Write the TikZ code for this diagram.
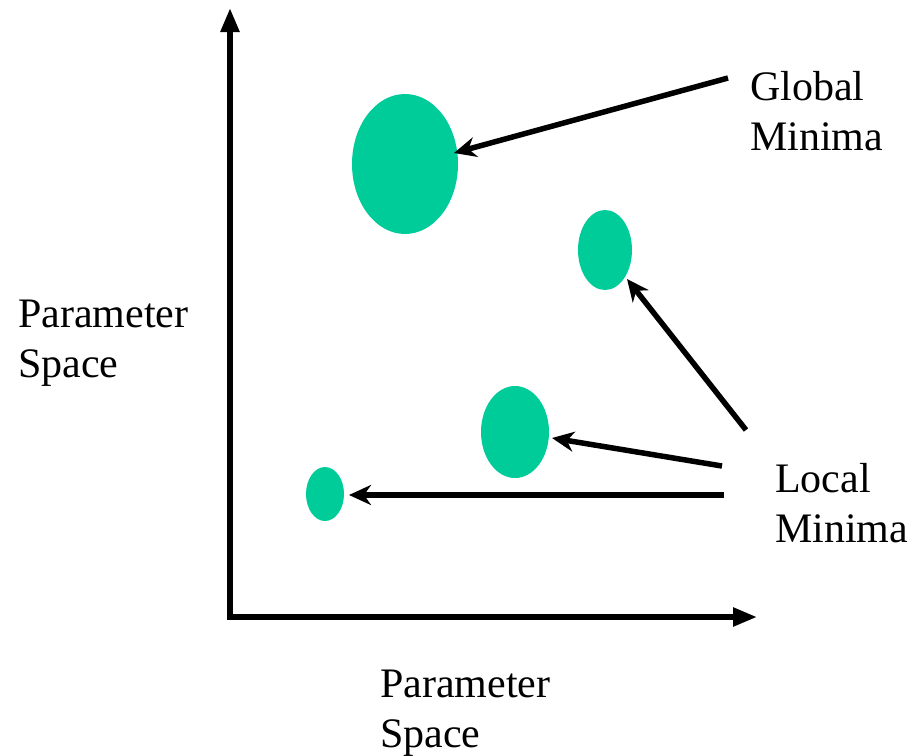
\documentclass[tikz,border=0pt]{standalone}
\usepackage{fontspec}
\setmainfont{Liberation Serif}
\usetikzlibrary{arrows.meta,shapes.geometric}
\definecolor{minfill}{RGB}{0,204,153}
\begin{document}
\begin{tikzpicture}[x=1pt,y=-1pt,
  axis/.style={line width=5.5pt,-{Triangle[length=24pt,width=18pt]}},
  pointer/.style={line width=5.5pt,-{Stealth[length=22pt,width=20pt,inset=7pt]}},
  basin/.style={fill=minfill,draw=none,ellipse,inner sep=0pt},
  lbl/.style={font=\fontsize{42}{50}\selectfont,align=left,inner sep=0pt}]
\useasboundingbox (0,0) rectangle (918,755);
% axes
\coordinate (origin) at (230,617);
\coordinate (ytop) at (230,8);
\coordinate (xend) at (757,617);
\draw[axis] ([yshift=2.75pt]origin) -- (ytop);
\draw[axis] ([xshift=-2.75pt]origin) -- (xend);
% minima
\node[basin,minimum width=106pt,minimum height=140pt] (g) at (405,164) {};
\node[basin,minimum width=54pt,minimum height=80pt] (l1) at (605,250) {};
\node[basin,minimum width=68pt,minimum height=92pt] (l2) at (515,432) {};
\node[basin,minimum width=38pt,minimum height=54pt] (l3) at (325,494) {};
% labels
\node[lbl,anchor=north west] (gl) at (750,71) {Global\\Minima};
\node[lbl,anchor=north west] (ll) at (775,463) {Local\\Minima};
\node[lbl,anchor=north west] (py) at (18,300) {Parameter\\Space};
\node[lbl,anchor=north west] (px) at (380,670) {Parameter\\Space};
% pointers
\coordinate (gs) at (728,78);
\coordinate (a1) at (746,430);
\coordinate (a2) at (722,466);
\coordinate (a3) at (724,495);
\draw[pointer] (gs) -- (454,153);
\draw[pointer] (a1) -- (627,279);
\draw[pointer] (a2) -- (552,438);
\draw[pointer] (a3) -- (349,495);
\end{tikzpicture}
\end{document}
